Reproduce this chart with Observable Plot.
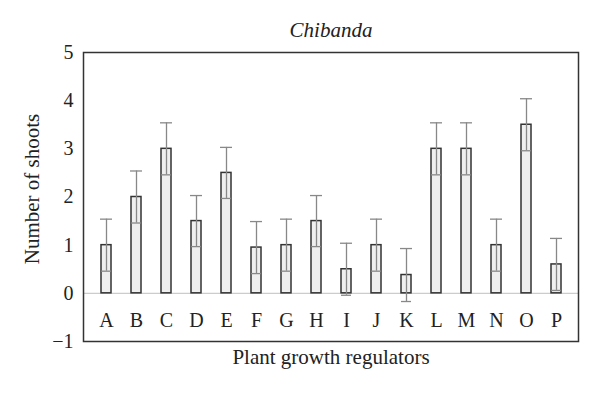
<!DOCTYPE html>
<html>
<head>
<meta charset="utf-8">
<script src="https://cdn.jsdelivr.net/npm/d3@7"></script>
<script src="https://cdn.jsdelivr.net/npm/@observablehq/plot@0.6"></script>
<style>
  html, body { margin: 0; padding: 0; background: #fff; }
</style>
</head>
<body>
<div id="chart"></div>
<script>
const categories = ["A","B","C","D","E","F","G","H","I","J","K","L","M","N","O","P"];
const shoots = [1, 2, 3, 1.5, 2.5, 0.95, 1, 1.5, 0.5, 1, 0.38, 3, 3, 1, 3.5, 0.6];
const errors = [0.54, 0.54, 0.54, 0.53, 0.53, 0.54, 0.54, 0.53, 0.54, 0.54, 0.55, 0.54, 0.54, 0.54, 0.54, 0.54];
const yTicks = [-1, 0, 1, 2, 3, 4, 5];
const title = "Chibanda";
const xLabel = "Plant growth regulators";
const yLabel = "Number of shoots";

const data = categories.map((c, i) => ({name: c, v: shoots[i], e: errors[i]}));
const font = "'Liberation Serif', 'DejaVu Serif', serif";

const chart = Plot.plot({
  width: 600,
  height: 393,
  marginLeft: 83,
  marginRight: 22,
  marginTop: 52,
  marginBottom: 52,
  style: {fontFamily: font, fontSize: "20px", background: "#fff", color: "#222"},
  x: {domain: categories, paddingInner: 0.677, paddingOuter: 0.339, axis: null},
  y: {domain: [-1, 5], axis: null},
  marks: [
    Plot.ruleY([0], {stroke: "#cccccc", strokeWidth: 1.2}),
    Plot.barY(data, {x: "name", y: "v", fill: "#efefef", stroke: "#333", strokeWidth: 1.5}),
    Plot.ruleX(data, {x: "name", y1: d => d.v - d.e, y2: d => d.v + d.e, stroke: "#888", strokeWidth: 1.3}),
    Plot.tickY(data, {x: "name", y: d => d.v + d.e, stroke: "#888", strokeWidth: 1.3, insetLeft: -1, insetRight: -1}),
    Plot.tickY(data, {x: "name", y: d => d.v - d.e, stroke: "#888", strokeWidth: 1.3}),
    Plot.text(categories, {x: d => d, y: -0.5, dy: 3, fontSize: 20, fontFamily: font, fill: "#222"}),
    Plot.axisY({ticks: yTicks, tickSize: 0, tickPadding: 10, fontSize: 20, fontFamily: font, label: null, tickFormat: d3.format("d")}),
    Plot.text([yLabel], {frameAnchor: "left", textAnchor: "middle", lineAnchor: "middle", dx: -51, dy: -8, rotate: -90, fontSize: 21, fontFamily: font, fill: "#222"}),
    Plot.text([title], {frameAnchor: "top", lineAnchor: "middle", dy: -22, fontSize: 21, fontFamily: font, fontStyle: "italic", fill: "#222"}),
    Plot.text([xLabel], {frameAnchor: "bottom", lineAnchor: "middle", dy: 16, fontSize: 21, fontFamily: font, fill: "#222"}),
    Plot.frame({stroke: "#333", strokeWidth: 1.5})
  ]
});
document.getElementById("chart").appendChild(chart);
</script>
</body>
</html>
